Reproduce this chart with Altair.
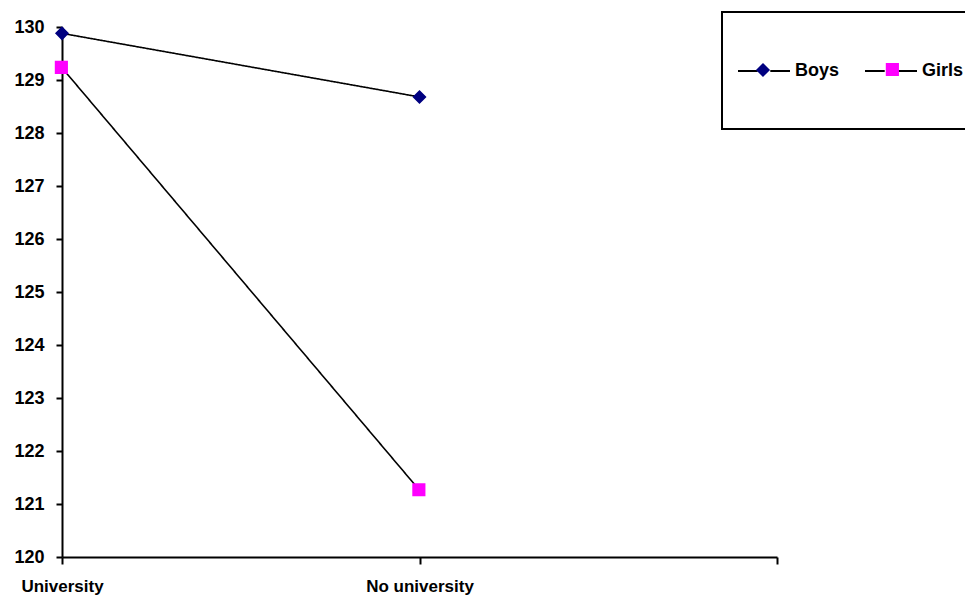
import altair as alt
import pandas as pd

categories = ["University", "No university"]
series = ["Boys", "Girls"]
boys = [129.88, 128.68]
girls = [129.23, 121.26]
y_ticks = list(range(120, 131))
colors = ["#000080", "#ff00ff"]

rows = []
for s, vals in zip(series, [boys, girls]):
    for c, v in zip(categories, vals):
        rows.append({"category": c, "series": s, "series_line": s, "value": v})
df = pd.DataFrame(rows)

FONT = "Liberation Sans, Arial"
FS = 18
SYM = 324  # nominal symbol box 18px (unit = 9px)
# invisible extents so both legends share the same symbol bounds
ext = "M-3,0L-3,0M3,0L3,0"
diamond = "M0,-0.78L0.78,0L0,0.78L-0.78,0Z" + ext
square = "M-0.8,-0.78H0.66V0.68H-0.8Z" + ext
line_sym = "M-2.89,0H-0.7M0.7,0H2.89"

x_enc = alt.X(
    "category:N",
    sort=None,
    scale=alt.Scale(type="point", domain=categories + [" "], padding=0),
    axis=alt.Axis(
        title=None, labelAngle=0, tickSize=7, tickWidth=2, domainWidth=2,
        domainColor="black", tickColor="black", labelColor="black",
        labelFont=FONT, labelFontSize=17, labelFontWeight="bold",
        labelPadding=14, grid=False,
    ),
)
y_enc = alt.Y(
    "value:Q",
    scale=alt.Scale(domain=[120, 130], nice=False, zero=False),
    axis=alt.Axis(
        title=None, values=y_ticks, format="d", tickSize=6, tickWidth=2,
        domainWidth=2, domainColor="black", tickColor="black",
        labelColor="black", labelFont=FONT, labelFontSize=FS,
        labelFontWeight="bold", labelPadding=12, grid=False,
    ),
)

common_legend = dict(
    orient="none", legendX=660, legendY=-15, direction="horizontal",
    title=None, symbolSize=SYM, padding=49, symbolOffset={"expr": "-17"},
    labelOffset=21, labelFont=FONT, labelFontSize=FS,
    labelFontWeight="bold", labelColor="black",
)

# line legend (with labels): data-derived domain so it stays separate
lines = alt.Chart(df).mark_line(color="black", strokeWidth=1.6).encode(
    x=x_enc,
    y=y_enc,
    strokeDash=alt.StrokeDash(
        "series_line:N",
        scale=alt.Scale(range=[[1, 0], [1, 0]]),
        legend=alt.Legend(
            symbolType=line_sym, symbolStrokeColor="black",
            symbolStrokeWidth=2, symbolFillColor="transparent",
            strokeColor="black", columnPadding=20, **common_legend,
        ),
    ),
)

# marker legend drawn over the line legend, without its own labels
pt_legend = alt.Legend(symbolStrokeWidth=0, labelExpr="''", columnPadding=73, **common_legend)
points = alt.Chart(df).mark_point(filled=True, opacity=1, size=SYM, strokeWidth=0).encode(
    x=x_enc,
    y=y_enc,
    color=alt.Color("series:N", scale=alt.Scale(domain=series, range=colors), legend=pt_legend),
    shape=alt.Shape("series:N", scale=alt.Scale(domain=series, range=[diamond, square]), legend=pt_legend),
)

chart = (
    alt.layer(lines, points)
    .properties(
        width=715, height=530,
        autosize=alt.AutoSizeParams(type="none"),
        padding={"left": 54, "top": 19, "right": 188, "bottom": 39},
        background="white",
    )
    .configure_view(stroke=None)
    .configure_legend(strokeWidth=2)
)

chart.save("out.html", embed_options={"renderer": "svg", "actions": False})
